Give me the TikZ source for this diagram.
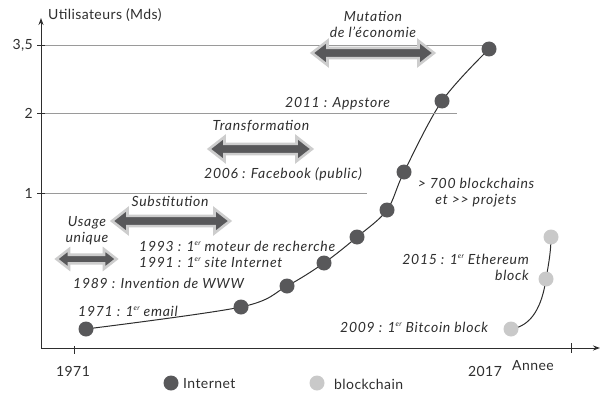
\documentclass[tikz,border=0pt]{standalone}
\usepackage{fontspec}
\setmainfont{Lato}[LetterSpace=3, ItalicFeatures={LetterSpace=5}]
\usetikzlibrary{arrows.meta,shapes.arrows,backgrounds}
\definecolor{dotdark}{HTML}{58585A}
\definecolor{dotlight}{HTML}{C9C9C9}
\definecolor{txt}{HTML}{2E2E2E}
\definecolor{guide}{HTML}{9A9A9A}
\definecolor{halo}{HTML}{CDCDCD}
% small raised ordinal suffix
\newcommand\ordsup{\raisebox{0.75ex}{\fontsize{7}{7}\selectfont er}}
\begin{document}
\begin{tikzpicture}[x=1pt,y=-1pt,
  font=\fontsize{14}{16}\selectfont, text=txt,
  idot/.style={circle, fill=dotdark, minimum size=15pt, inner sep=0pt},
  bdot/.style={circle, fill=dotlight, minimum size=15pt, inner sep=0pt},
  lbl/.style={font=\fontsize{14}{16}\selectfont\itshape, inner sep=0pt},
  plain/.style={inner sep=0pt},
  phase/.style={double arrow, fill=dotdark, draw=halo, line width=2.6pt,
    double arrow head extend=7pt, double arrow head indent=0pt,
    double arrow tip angle=76,
    inner sep=3.8pt, minimum width=23pt},
  smallphase/.style={phase, inner sep=3pt, double arrow head extend=5.5pt, minimum width=18pt},
  guideline/.style={guide, line width=0.8pt},
  axis/.style={txt, line width=1pt},
  tick/.style={txt, line width=0.8pt}]
\useasboundingbox (0,0) rectangle (601,393);

% axes
\coordinate (O) at (41,348);
\coordinate (ytip) at (41,18);
\coordinate (xtip) at (600,348);
\draw[axis, -{Stealth[length=7pt,width=5pt]}] (O) -- (ytip);
\draw[axis, -{Stealth[length=7pt,width=5pt]}] (O) -- (xtip);

% horizontal guide lines
\coordinate (g35a) at (41,45);  \coordinate (g35b) at (489,45);
\coordinate (g2a)  at (41,113); \coordinate (g2b)  at (457,113);
\coordinate (g1a)  at (41,193); \coordinate (g1b)  at (367,193);
\draw[guideline] (g35a) -- (g35b);
\draw[guideline] (g2a) -- (g2b);
\draw[guideline] (g1a) -- (g1b);

% ticks
\foreach \y in {45,113,193}{\draw[tick] (37,\y) -- (45,\y);}
\draw[tick] (74,346) -- (74,354);
\draw[tick] (571,343) -- (571,353);

% axis labels
\node[plain, anchor=west] (ylab) at (48,15) {Utilisateurs (Mds)};
\node[plain, anchor=east] (l35) at (33,45) {3,5};
\node[plain, anchor=east] (l2) at (33,113) {2};
\node[plain, anchor=east] (l1) at (33,193) {1};
\node[plain] (y1971) at (73,371) {1971};
\node[plain] (y2017) at (485,371) {2017};
\node[plain] (xlab) at (533,366) {Annee};

% internet adoption points
\node[idot] (i1) at (86,329) {};
\node[idot] (i2) at (241,307) {};
\node[idot] (i3) at (287,286) {};
\node[idot] (i4) at (324,263) {};
\node[idot] (i5) at (357,237) {};
\node[idot] (i6) at (387,210) {};
\node[idot] (i7) at (404,172) {};
\node[idot] (i8) at (442,101) {};
\node[idot] (i9) at (489,49) {};

% blockchain points
\node[bdot] (b1) at (511,329) {};
\node[bdot] (b2) at (546,279) {};
\node[bdot] (b3) at (551,237) {};

\begin{scope}[on background layer]
\draw[txt, line width=1pt] plot[smooth, tension=0.55] coordinates
  {(i1.center) (i2.center) (i3.center) (i4.center) (i5.center) (i6.center) (i7.center) (i8.center) (i9.center)};
\draw[txt, line width=1pt] (b1.center) .. controls (532,326) and (542,306) .. (b2.center)
  .. controls (549,262) and (551,250) .. (b3.center);
\end{scope}

% phases
\node[smallphase, minimum height=60pt] (usage) at (86.5,259) {};
\node[phase, minimum height=118pt] (subst) at (171,221) {};
\node[phase, minimum height=103pt] (transf) at (260.5,149) {};
\node[phase, minimum height=122pt] (mutat) at (373,53) {};

\node[lbl, align=center] (tusage) at (87,231) {Usage\\unique};
\node[lbl] (tsubst) at (170,201) {Substitution};
\node[lbl] (ttransf) at (261,126) {Transformation};
\node[lbl, align=center] (tmutat) at (373,24) {Mutation\\de l’économie};

% milestones
\node[lbl, anchor=west] (m2011) at (285,104) {2011 : Appstore};
\node[lbl, anchor=west] (m2006) at (204,174) {2006 : Facebook (public)};
\node[lbl, align=center] (mbc) at (476,193) {> 700 blockchains\\et >{}> projets};
\node[lbl, anchor=west] (m1993) at (139,246) {1993 : 1\ordsup{} moteur de recherche};
\node[lbl, anchor=west] (m1991) at (139,262) {1991 : 1\ordsup{} site Internet};
\node[lbl, anchor=west] (m1989) at (73,283) {1989 : Invention de WWW};
\node[lbl, anchor=west] (m1971) at (78,311) {1971 : 1\ordsup{} email};
\node[lbl, align=right, anchor=east] (m2015) at (529,267) {2015 : 1\ordsup{} Ethereum\\block};
\node[lbl, anchor=west] (m2009) at (340,327) {2009 : 1\ordsup{} Bitcoin block};

% legend
\node[idot] (kint) at (171,383) {};
\node[plain, anchor=west] (kintl) at (183,384) {Internet};
\node[bdot] (kbc) at (317,383) {};
\node[plain, anchor=west] (kbcl) at (334,384) {blockchain};
\end{tikzpicture}
\end{document}
